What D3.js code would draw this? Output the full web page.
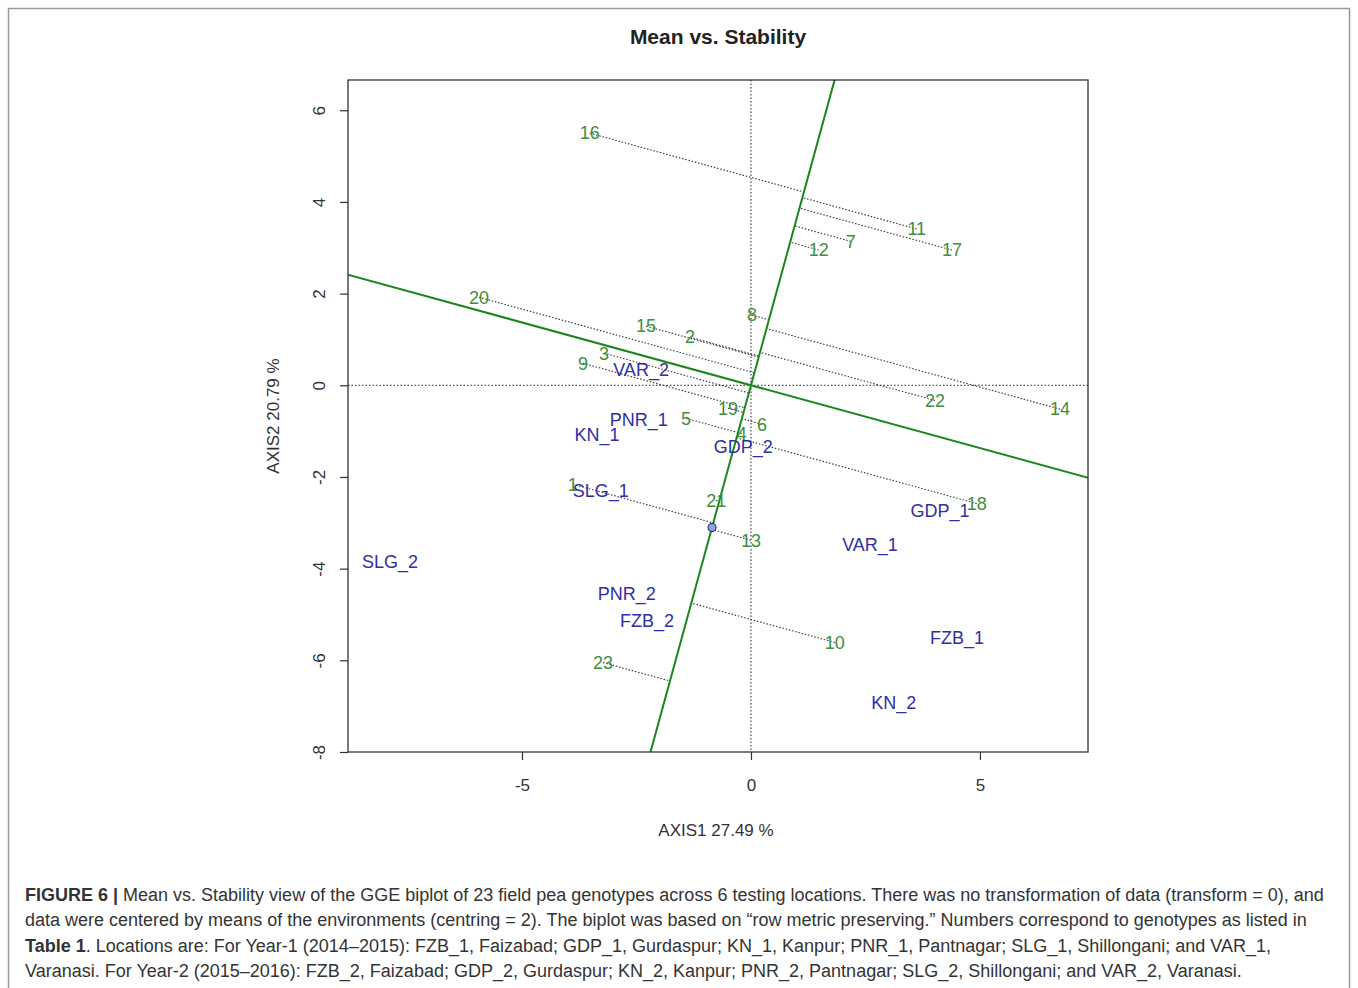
<!DOCTYPE html>
<html>
<head>
<meta charset="utf-8">
<script src="https://cdn.jsdelivr.net/npm/d3@7"></script>
<style>
body { margin: 0; background: #fff; }
text { font-family: "Liberation Sans", Arial, sans-serif; }
</style>
</head>
<body>
<svg id="chart" width="1358" height="988"></svg>
<script>
// genotypes (green numbers), biplot coordinates
var genoNames = ["1","2","3","4","5","6","7","8","9","10","11","12","13","14","15","16","17","18","19","20","21","22","23"];
var genoX = [-3.89,-1.33,-3.21,-0.20,-1.42,0.24,2.18,0.02,-3.67,1.83,3.62,1.48,0.00,6.75,-2.29,-3.52,4.39,4.93,-0.50,-5.94,-0.76,4.02,-3.23];
var genoY = [-2.16,1.05,0.70,-1.05,-0.72,-0.85,3.14,1.53,0.48,-5.61,3.41,2.95,-3.38,-0.52,1.29,5.50,2.95,-2.58,-0.50,1.92,-2.51,-0.33,-6.05];

// environments (blue labels)
var envNames = ["VAR_2","PNR_1","KN_1","GDP_2","SLG_1","GDP_1","VAR_1","SLG_2","PNR_2","FZB_2","FZB_1","KN_2"];
var envX = [-2.40,-2.45,-3.36,-0.17,-3.28,4.13,2.60,-7.88,-2.71,-2.27,4.50,3.12];
var envY = [0.35,-0.74,-1.07,-1.35,-2.29,-2.73,-3.47,-3.84,-4.54,-5.13,-5.50,-6.92];

// average environment coordinate (defines the AEA)
var avgEnv = [-0.85, -3.10];

var xTicks = [-5, 0, 5];
var yTicks = [6, 4, 2, 0, -2, -4, -6, -8];

var svg = d3.select("#chart");
var plot = {left: 348, right: 1088, top: 80, bottom: 752};

var x = d3.scaleLinear().domain([-8.8, 7.36]).range([plot.left, plot.right]);
var y = d3.scaleLinear().domain([-8.0, 6.66]).range([plot.bottom, plot.top]);

// outer frame
svg.append("rect").attr("x", 8.5).attr("y", 8.5).attr("width", 1341).attr("height", 1000)
    .attr("fill", "none").attr("stroke", "#9a9a9a").attr("stroke-width", 1.5);

svg.append("text").attr("x", 718).attr("y", 44).attr("text-anchor", "middle")
    .style("font-size", "21px").style("font-weight", "bold").attr("fill", "#222")
    .text("Mean vs. Stability");

svg.append("defs").append("clipPath").attr("id", "clip")
    .append("rect").attr("x", plot.left).attr("y", plot.top)
    .attr("width", plot.right - plot.left).attr("height", plot.bottom - plot.top);

var g = svg.append("g").attr("clip-path", "url(#clip)");

// zero reference lines
g.append("line").attr("x1", x(0)).attr("x2", x(0)).attr("y1", plot.top).attr("y2", plot.bottom)
    .attr("stroke", "#222").attr("stroke-dasharray", "1.5,2");
g.append("line").attr("x1", plot.left).attr("x2", plot.right).attr("y1", y(0)).attr("y2", y(0))
    .attr("stroke", "#222").attr("stroke-dasharray", "1.5,2");

// AEA direction
var len = Math.sqrt(avgEnv[0] * avgEnv[0] + avgEnv[1] * avgEnv[1]);
var ax = avgEnv[0] / len, ay = avgEnv[1] / len;

// projection lines genotype -> AEA
var geno = genoNames.map(function (n, i) { return {name: n, x: genoX[i], y: genoY[i]}; });
geno.forEach(function (d) {
    var t = d.x * ax + d.y * ay;
    d.px = t * ax; d.py = t * ay;
});
g.selectAll(".proj").data(geno).enter().append("line")
    .attr("class", "proj")
    .attr("x1", function (d) { return x(d.x); })
    .attr("y1", function (d) { return y(d.y); })
    .attr("x2", function (d) { return x(d.px); })
    .attr("y2", function (d) { return y(d.py); })
    .attr("stroke", "#333").attr("stroke-width", 1.1).attr("stroke-dasharray", "1.5,1.8");

// AEA and its perpendicular
var big = 30;
g.append("line").attr("x1", x(-big * ax)).attr("y1", y(-big * ay)).attr("x2", x(big * ax)).attr("y2", y(big * ay))
    .attr("stroke", "#1c861c").attr("stroke-width", 2);
g.append("line").attr("x1", x(-big * ay)).attr("y1", y(big * ax)).attr("x2", x(big * ay)).attr("y2", y(-big * ax))
    .attr("stroke", "#1c861c").attr("stroke-width", 2);

g.append("circle").attr("cx", x(avgEnv[0])).attr("cy", y(avgEnv[1])).attr("r", 4)
    .attr("fill", "#8fa8d8").attr("stroke", "#2a2aa0").attr("stroke-width", 1.2);

// labels
svg.selectAll(".geno").data(geno).enter().append("text")
    .attr("class", "geno")
    .attr("x", function (d) { return x(d.x); })
    .attr("y", function (d) { return y(d.y); })
    .attr("dy", "0.35em").attr("text-anchor", "middle")
    .style("font-size", "18px").attr("fill", "#3e8e3e")
    .text(function (d) { return d.name; });

var env = envNames.map(function (n, i) { return {name: n, x: envX[i], y: envY[i]}; });
svg.selectAll(".env").data(env).enter().append("text")
    .attr("class", "env")
    .attr("x", function (d) { return x(d.x); })
    .attr("y", function (d) { return y(d.y); })
    .attr("dy", "0.35em").attr("text-anchor", "middle")
    .style("font-size", "18px").attr("fill", "#2e2ea6")
    .text(function (d) { return d.name; });

// box
svg.append("rect").attr("x", plot.left).attr("y", plot.top)
    .attr("width", plot.right - plot.left).attr("height", plot.bottom - plot.top)
    .attr("fill", "none").attr("stroke", "#333").attr("stroke-width", 1.3);

// axes
var fmt = function (d) { return String(d); };
var xAxis = svg.append("g").attr("transform", "translate(0," + plot.bottom + ")")
    .call(d3.axisBottom(x).tickValues(xTicks).tickSize(8).tickPadding(19).tickFormat(fmt));
var yAxis = svg.append("g").attr("transform", "translate(" + plot.left + ",0)")
    .call(d3.axisLeft(y).tickValues(yTicks).tickSize(8).tickFormat(fmt));
[xAxis, yAxis].forEach(function (a) {
    a.select(".domain").remove();
    a.selectAll("line").attr("stroke", "#333").attr("stroke-width", 1.2);
    a.selectAll("text").style("font-size", "17px").style("font-family", "Liberation Sans, Arial, sans-serif").attr("fill", "#333");
});
yAxis.selectAll("text")
    .attr("x", null).attr("dy", null).attr("text-anchor", "middle")
    .attr("transform", "translate(-29,0) rotate(-90)")
    .attr("y", 6);

svg.append("text").attr("x", 716).attr("y", 836).attr("text-anchor", "middle")
    .style("font-size", "17px").attr("fill", "#333").text("AXIS1 27.49 %");
svg.append("text").attr("transform", "translate(279,416) rotate(-90)").attr("text-anchor", "middle")
    .style("font-size", "17px").attr("fill", "#333").text("AXIS2 20.79 %");

// caption
var caption = [
    [["FIGURE 6 |", true], [" Mean vs. Stability view of the GGE biplot of 23 field pea genotypes across 6 testing locations. There was no transformation of data (transform = 0), and", false]],
    [["data were centered by means of the environments (centring = 2). The biplot was based on \u201crow metric preserving.\u201d Numbers correspond to genotypes as listed in", false]],
    [["Table 1", true], [". Locations are: For Year-1 (2014\u20132015): FZB_1, Faizabad; GDP_1, Gurdaspur; KN_1, Kanpur; PNR_1, Pantnagar; SLG_1, Shillongani; and VAR_1,", false]],
    [["Varanasi. For Year-2 (2015\u20132016): FZB_2, Faizabad; GDP_2, Gurdaspur; KN_2, Kanpur; PNR_2, Pantnagar; SLG_2, Shillongani; and VAR_2, Varanasi.", false]]
];
caption.forEach(function (line, i) {
    var t = svg.append("text").attr("x", 25).attr("y", 901 + i * 25.3)
        .style("font-size", "18px").attr("fill", "#333");
    line.forEach(function (p) {
        t.append("tspan").style("font-weight", p[1] ? "bold" : "normal").text(p[0]);
    });
});
</script>
</body>
</html>
